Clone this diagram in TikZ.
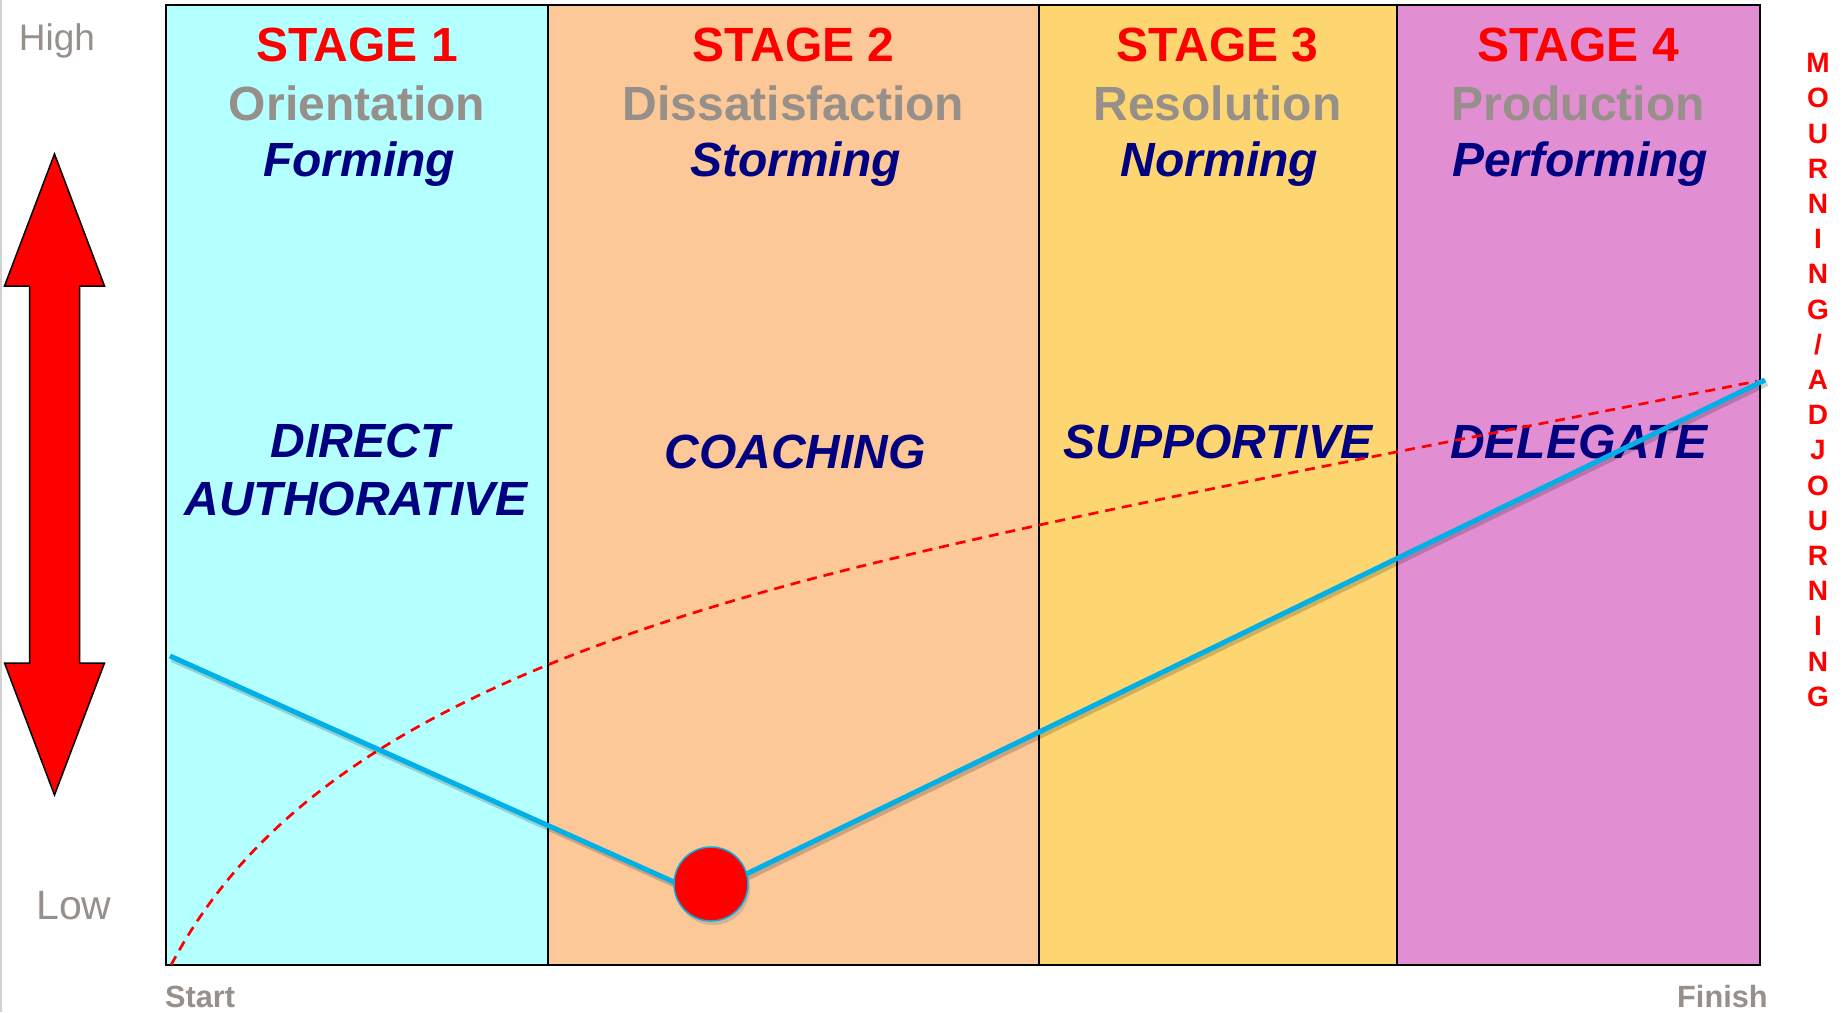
\documentclass[tikz,border=0pt]{standalone}
\usepackage{fontspec}
\setmainfont{Liberation Sans}
\usetikzlibrary{shadows}
\definecolor{stageone}{RGB}{180,255,255}
\definecolor{stagetwo}{RGB}{252,200,152}
\definecolor{stagethree}{RGB}{253,214,113}
\definecolor{stagefour}{RGB}{226,142,210}
\definecolor{labgray}{RGB}{151,143,137}
\definecolor{darknavy}{RGB}{0,0,128}
\definecolor{skyline}{RGB}{0,176,230}
\tikzset{
	stagetitle/.style={text=red, font=\fontsize{48}{57}\selectfont\bfseries, anchor=base, inner sep=0pt},
	stagename/.style={text=labgray, font=\fontsize{48}{57}\selectfont\bfseries, anchor=base, inner sep=0pt},
	stagemode/.style={text=darknavy, font=\fontsize{48}{57}\selectfont\bfseries\itshape, anchor=base, inner sep=0pt},
	leadstyle/.style={text=darknavy, font=\fontsize{48}{57}\selectfont\bfseries\itshape, anchor=base, inner sep=0pt},
	levellabel/.style={text=labgray, anchor=base, inner sep=0pt},
	timelabel/.style={text=labgray, font=\fontsize{30.7}{36}\selectfont\bfseries, anchor=base west, inner sep=0pt},
	mourntext/.style={text=red, font=\fontsize{28}{35.2}\selectfont\bfseries, align=center, anchor=north, inner sep=0pt},
	divider/.style={line width=2pt},
	teamline/.style={skyline, line width=5pt},
	lineshadow/.style={black, opacity=0.18, line width=6pt},
	moralecurve/.style={red, line width=2.7pt, dash pattern=on 10pt off 7pt},
	dipdot/.style={circle, fill=red, draw=skyline, line width=1.5pt, minimum size=74pt, inner sep=0pt,
		drop shadow={opacity=0.3, shadow xshift=2pt, shadow yshift=-4pt}}
}
\begin{document}
\begin{tikzpicture}[x=1pt,y=-1pt]
	\useasboundingbox (0,0) rectangle (1843,1012);
	\draw[gray!35, line width=2pt] (1,0) -- (1,1012);

	\fill[stageone] (166,5) rectangle (548,965);
	\fill[stagetwo] (548,5) rectangle (1039.3,965);
	\fill[stagethree] (1039.3,5) rectangle (1396.5,965);
	\fill[stagefour] (1396.5,5) rectangle (1760,965);
	\draw[divider] (548,5) -- (548,965);
	\draw[divider] (1039.3,5) -- (1039.3,965);
	\draw[divider] (1396.5,5) -- (1396.5,965);
	\draw[line width=2.5pt] (166,5) rectangle (1760,965);

	\filldraw[fill=red, draw=black, line width=1.5pt] (54.5,154) -- (104.5,286) -- (79.5,286) -- (79.5,663) -- (104.5,663)
		-- (54.5,795) -- (4.5,663) -- (29.5,663) -- (29.5,286) -- (4.5,286) -- cycle;
	\node[levellabel, font=\fontsize{37}{44}\selectfont] (high) at (57,50.7) {High};
	\node[levellabel, font=\fontsize{41}{49}\selectfont] (low) at (74,919) {Low};
	\node[timelabel] (start) at (165,1007) {Start};
	\node[timelabel] (finish) at (1677,1007) {Finish};

	\node[stagetitle] (st1) at (357,61.7) {STAGE 1};
	\node[stagename] (sn1) at (357,120) {Orientation};
	\node[stagemode] (sm1) at (359,176.7) {Forming};
	\node[stagetitle] (st2) at (793.5,61.7) {STAGE 2};
	\node[stagename] (sn2) at (793.5,120) {Dissatisfaction};
	\node[stagemode] (sm2) at (795.5,176.7) {Storming};
	\node[stagetitle] (st3) at (1217.5,61.7) {STAGE 3};
	\node[stagename] (sn3) at (1217.5,120) {Resolution};
	\node[stagemode] (sm3) at (1219.5,176.7) {Norming};
	\node[stagetitle] (st4) at (1578,61.7) {STAGE 4};
	\node[stagename] (sn4) at (1578,120) {Production};
	\node[stagemode] (sm4) at (1580,176.7) {Performing};

	\node[leadstyle] (direct) at (360,457) {DIRECT};
	\node[leadstyle] (authorative) at (356,515) {AUTHORATIVE};
	\node[leadstyle] (coaching) at (795,468) {COACHING};
	\node[leadstyle] (supportive) at (1218,458) {SUPPORTIVE};
	\node[leadstyle] (delegate) at (1579,458) {DELEGATE};

	\node[mourntext] (mourn) at (1818,53.3) {M\\O\\U\\R\\N\\I\\N\\G\\/\\A\\D\\J\\O\\U\\R\\N\\I\\N\\G};

	\draw[moralecurve] plot[domain=0:1586, samples=120, smooth]
		({171+\x},{965-197*ln(1+\x/105)-(max(0,\x-700)/146.8)^2});

	\coordinate (lstart) at (170,656);
	\coordinate (vtx) at (703,895);
	\coordinate (lend) at (1765,380);
	\draw[lineshadow, transform canvas={xshift=2pt, yshift=-3pt}] (lstart) -- (vtx) -- (lend);
	\draw[teamline] (lstart) -- (vtx) -- (lend);
	\node[dipdot] (dip) at (711,884) {};
\end{tikzpicture}
\end{document}
